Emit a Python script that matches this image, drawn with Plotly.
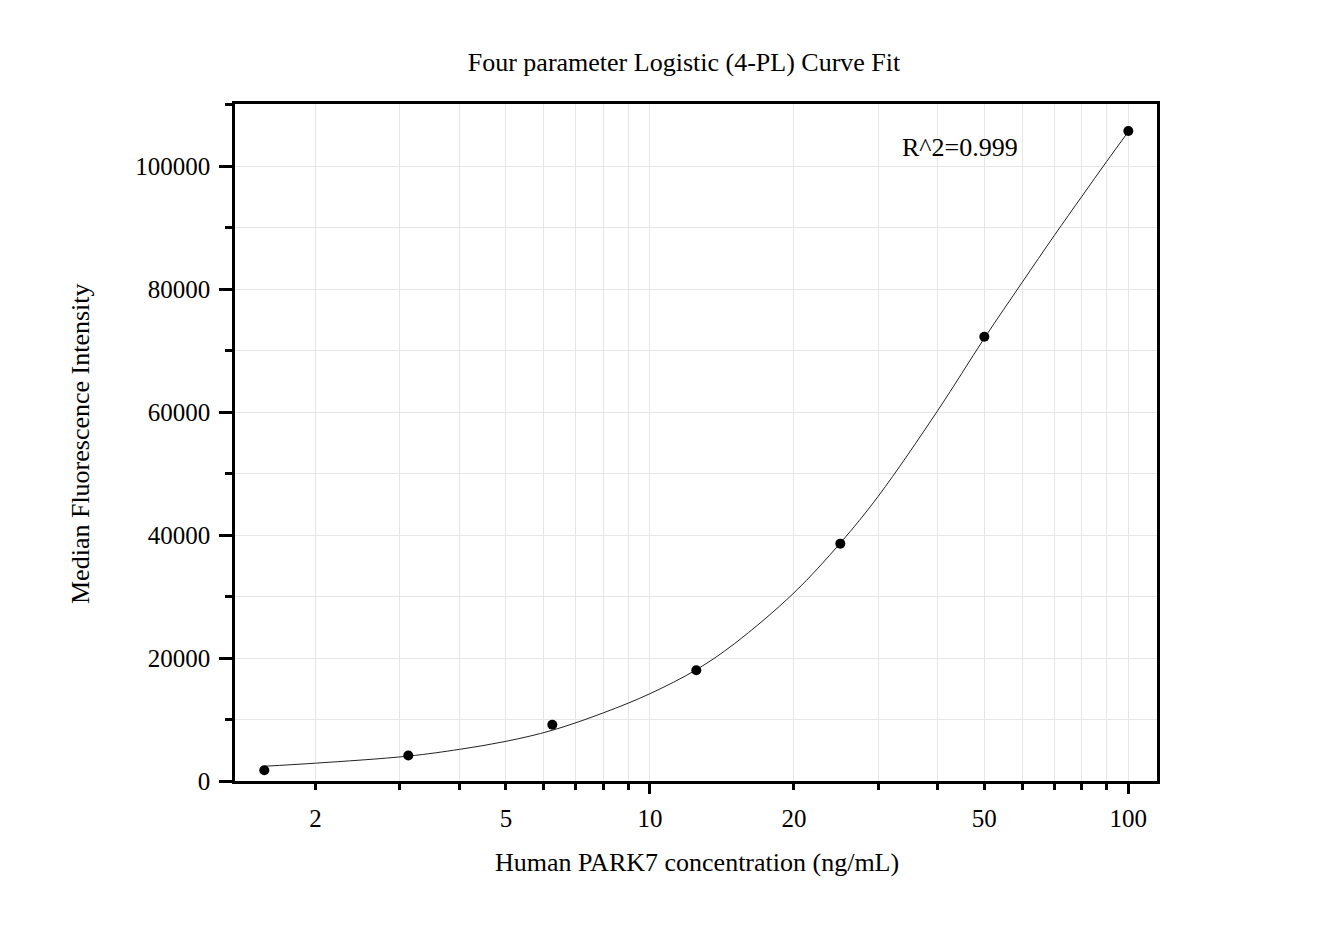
import numpy as np
import plotly.graph_objects as go

chart_title = "Four parameter Logistic (4-PL) Curve Fit"
x_label = "Human PARK7 concentration (ng/mL)"
y_label = "Median Fluorescence Intensity"
r2_text = "R^2=0.999"

# standards (measured points)
conc = [1.5625, 3.125, 6.25, 12.5, 25, 50, 100]
mfi = [1750, 4150, 9150, 18000, 38600, 72250, 105700]

# fitted 4-PL curve
curve_conc = [1.5625, 2, 3.125, 4, 5, 6.25, 8, 10, 12.5, 15, 20, 25, 30, 40, 50, 60, 70, 80, 90, 100]
curve_mfi = [2400, 2900, 4050, 5150, 6450, 8250, 11100, 14200, 18100, 22300, 30600, 38700,
             46300, 60300, 72000, 81100, 88700, 95100, 100700, 105600]

x_ticks = [2, 5, 10, 20, 50, 100]
x_decades = [10, 100]
x_minor = [2, 3, 4, 5, 6, 7, 8, 9, 20, 30, 40, 50, 60, 70, 80, 90]
y_ticks = [0, 20000, 40000, 60000, 80000, 100000]

x_range = [np.log10(1.357), np.log10(114.8)]
y_range = [0, 110100]

FONT = "Liberation Serif, Times New Roman, serif"
GRID = "#e6e6e6"
W, H = 1322, 917

fig = go.Figure()
fig.add_trace(go.Scatter(x=curve_conc, y=curve_mfi, mode="lines",
                         line=dict(color="#222222", width=1, shape="spline", smoothing=1.0),
                         hoverinfo="skip"))
fig.add_trace(go.Scatter(x=conc, y=mfi, mode="markers", xaxis="x2", yaxis="y",
                         marker=dict(color="black", size=10)))

fig.update_layout(
    width=W, height=H,
    paper_bgcolor="white", plot_bgcolor="white",
    showlegend=False,
    margin=dict(l=227, r=173, t=96, b=144),
    font=dict(family=FONT, size=25, color="black"),
    title=dict(text=chart_title, x=676 / W, y=1 - 54 / H, xref="container", yref="container",
               xanchor="center", yanchor="middle", font=dict(size=26, family=FONT, color="black")),
    xaxis=dict(type="log", range=x_range, tickmode="array", tickvals=x_ticks,
               ticktext=[str(v) for v in x_ticks], ticks="outside", ticklen=6, tickwidth=2.5,
               tickcolor="black", ticklabelstandoff=7, tickfont=dict(size=25),
               showline=True, linecolor="black", linewidth=2.5, mirror=True,
               showgrid=True, gridcolor=GRID, gridwidth=1, zeroline=False,
               minor=dict(tickmode="array", tickvals=x_minor, ticks="outside", ticklen=6,
                          tickwidth=2.5, tickcolor="black", showgrid=True, gridcolor=GRID,
                          gridwidth=1)),
    xaxis2=dict(type="log", range=x_range, overlaying="x", anchor="y", side="bottom",
                tickmode="array", tickvals=x_decades, ticks="outside", ticklen=12, tickwidth=2.5,
                tickcolor="black", showticklabels=False, showgrid=False, showline=False,
                zeroline=False),
    yaxis=dict(range=y_range, tickmode="array", tickvals=y_ticks, tickformat="d",
               ticks="outside", ticklen=13, tickwidth=2.5, tickcolor="black",
               ticklabelstandoff=4, tickfont=dict(size=25),
               showline=True, linecolor="black", linewidth=2.5, mirror=True,
               showgrid=True, gridcolor=GRID, gridwidth=1, zeroline=False,
               minor=dict(dtick=10000, tick0=0, ticks="outside", ticklen=7, tickwidth=2.5,
                          tickcolor="black", showgrid=True, gridcolor=GRID, gridwidth=1)),
)

fig.add_annotation(text=x_label, xref="paper", yref="paper", x=(697 - 235) / 922,
                   y=(781 - 862) / 677, xanchor="center", yanchor="middle", showarrow=False,
                   font=dict(size=26, family=FONT, color="black"))
fig.add_annotation(text=y_label, xref="paper", yref="paper", x=(80 - 235) / 922,
                   y=(781 - 444) / 677, xanchor="center", yanchor="middle", showarrow=False,
                   textangle=-90, font=dict(size=26, family=FONT, color="black"))
fig.add_annotation(text=r2_text, xref="paper", yref="paper", x=(960 - 235) / 922,
                   y=(781 - 147) / 677, xanchor="center", yanchor="middle", showarrow=False,
                   font=dict(size=26, family=FONT, color="black"))

fig.write_html("out.html")
